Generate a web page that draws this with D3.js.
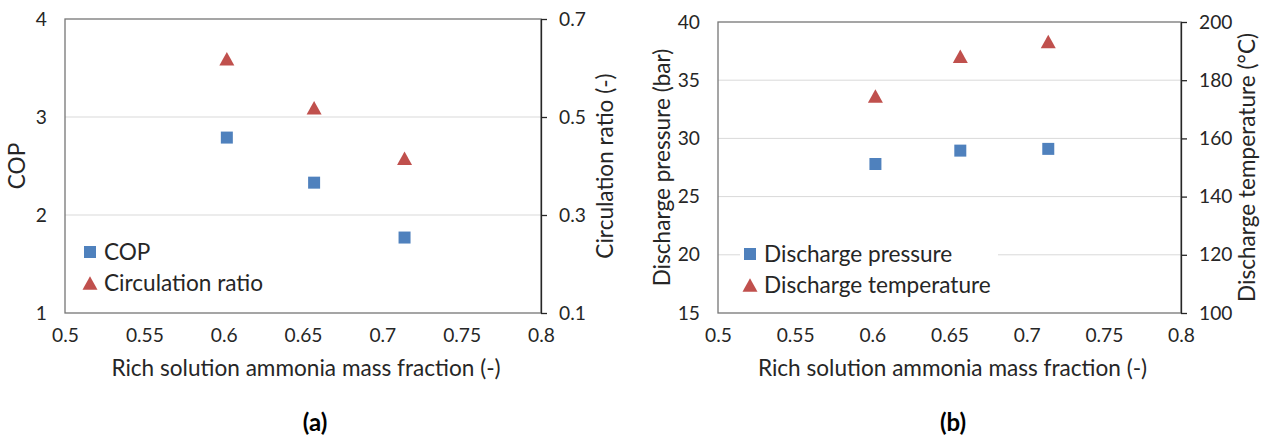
<!DOCTYPE html>
<html>
<head>
<meta charset="utf-8">
<script src="https://cdn.jsdelivr.net/npm/d3@7"></script>
<style>
  body { margin: 0; background: #fff; }
  svg { display: block; font-family: Lato, "Open Sans", sans-serif; }
</style>
</head>
<body>
<svg width="1267" height="438"></svg>
<script>
// data
const massFraction = [0.602, 0.657, 0.714];
const xTicks = [0.5, 0.55, 0.6, 0.65, 0.7, 0.75, 0.8];

const copValues = [2.79, 2.33, 1.77];
const ratioValues = [0.619, 0.519, 0.416];
const copTicks = [1, 2, 3, 4];
const ratioTicks = [0.1, 0.3, 0.5, 0.7];

const pressureValues = [27.8, 28.95, 29.1];
const temperatureValues = [174.6, 188.2, 193.3];
const pressureTicks = [15, 20, 25, 30, 35, 40];
const temperatureTicks = [100, 120, 140, 160, 180, 200];

const blue = "#4f81bd";
const red = "#c0504d";
const textColor = "#262626";
const labelSize = "22.6px";
const tickSize = "19.2px";

const svg = d3.select("svg");

// triangle centred on its bounding box, like the spreadsheet markers
const boxTriangle = {
  draw(ctx, size) {
    const w = Math.sqrt(size);
    const h = w * 0.9;
    ctx.moveTo(0, -h / 2);
    ctx.lineTo(w / 2, h / 2);
    ctx.lineTo(-w / 2, h / 2);
    ctx.closePath();
  }
};

const panels = [
  {
    left: 65, right: 541, top: 19, bottom: 313,
    yDomain: [1, 4], yTicks: copTicks, yFormat: d3.format("d"),
    y2Domain: [0.1, 0.7], y2Ticks: ratioTicks, y2Format: d3.format(".1f"),
    yTitle: "COP", y2Title: "Circulation ratio (-)",
    yTitleX: 17, y2TitleX: 605,
    s1: copValues, s2: ratioValues,
    names: ["COP", "Circulation ratio"],
    legend: { x: 90, y: 252, w: 0 },
    tag: "(a)", tagX: 315
  },
  {
    left: 718, right: 1181, top: 22, bottom: 313,
    yDomain: [15, 40], yTicks: pressureTicks, yFormat: d3.format("d"),
    y2Domain: [100, 200], y2Ticks: temperatureTicks, y2Format: d3.format("d"),
    yTitle: "Discharge pressure (bar)", y2Title: "Discharge temperature (°C)",
    yTitleX: 662, y2TitleX: 1247,
    s1: pressureValues, s2: temperatureValues,
    names: ["Discharge pressure", "Discharge temperature"],
    legend: { x: 750, y: 254, w: 258 },
    tag: "(b)", tagX: 953
  }
];

panels.forEach(p => {
  const g = svg.append("g");
  const x = d3.scaleLinear().domain([0.5, 0.8]).range([p.left, p.right]);
  const y = d3.scaleLinear().domain(p.yDomain).range([p.bottom, p.top]);
  const y2 = d3.scaleLinear().domain(p.y2Domain).range([p.bottom, p.top]);

  // gridlines
  g.append("g")
    .selectAll("line")
    .data(p.yTicks.filter(t => t !== p.yDomain[0] && t !== p.yDomain[1]))
    .join("line")
    .attr("x1", p.left).attr("x2", p.right)
    .attr("y1", d => y(d)).attr("y2", d => y(d))
    .attr("stroke", "#d9d9d9").attr("stroke-width", 1);

  // plot border
  g.append("rect")
    .attr("x", p.left).attr("y", p.top)
    .attr("width", p.right - p.left).attr("height", p.bottom - p.top)
    .attr("fill", "none").attr("stroke", "#767676").attr("stroke-width", 1.3);

  // left axis
  const yAxis = d3.axisLeft(y).tickValues(p.yTicks).tickFormat(p.yFormat)
    .tickSize(0).tickPadding(18);
  const yG = g.append("g").attr("transform", `translate(${p.left},0)`).call(yAxis);
  yG.select(".domain").remove();

  // right axis
  const y2Axis = d3.axisRight(y2).tickValues(p.y2Ticks).tickFormat(p.y2Format)
    .tickSizeInner(6).tickSizeOuter(0).tickPadding(12);
  const y2G = g.append("g").attr("transform", `translate(${p.right},0)`).call(y2Axis);
  y2G.select(".domain").attr("stroke", "#262626").attr("stroke-width", 1.3);
  y2G.selectAll(".tick line").attr("stroke", "#262626").attr("stroke-width", 1.3);

  // bottom axis
  const xAxis = d3.axisBottom(x).tickValues(xTicks).tickFormat(d => String(d))
    .tickSize(0).tickPadding(15);
  const xG = g.append("g").attr("transform", `translate(0,${p.bottom})`).call(xAxis);
  xG.select(".domain").remove();

  g.selectAll(".tick text")
    .attr("fill", textColor)
    .style("font-size", tickSize)
    .style("font-family", "Lato, sans-serif");

  // titles
  const mid = (p.left + p.right) / 2;
  g.append("text")
    .attr("x", mid + 3).attr("y", 376)
    .attr("text-anchor", "middle").attr("fill", textColor)
    .style("font-size", labelSize)
    .text("Rich solution ammonia mass fraction (-)");

  g.append("text")
    .attr("transform", `translate(${p.yTitleX},${(p.top + p.bottom) / 2}) rotate(-90)`)
    .attr("text-anchor", "middle").attr("dy", "0.35em").attr("fill", textColor)
    .style("font-size", labelSize)
    .text(p.yTitle);

  g.append("text")
    .attr("transform", `translate(${p.y2TitleX},${(p.top + p.bottom) / 2}) rotate(-90)`)
    .attr("text-anchor", "middle").attr("dy", "0.35em").attr("fill", textColor)
    .style("font-size", labelSize)
    .text(p.y2Title);

  g.append("text")
    .attr("x", p.tagX).attr("y", 431)
    .attr("text-anchor", "middle").attr("fill", "#000")
    .style("font-size", "24px").style("font-weight", "bold")
    .text(p.tag);

  // markers
  const square = d3.symbol().type(d3.symbolSquare).size(144);
  const tri = d3.symbol().type(boxTriangle).size(225);

  g.append("g").selectAll("path")
    .data(massFraction.map((f, i) => [f, p.s1[i]]))
    .join("path")
    .attr("d", square)
    .attr("transform", d => `translate(${x(d[0])},${y(d[1])})`)
    .attr("fill", blue);

  g.append("g").selectAll("path")
    .data(massFraction.map((f, i) => [f, p.s2[i]]))
    .join("path")
    .attr("d", tri)
    .attr("transform", d => `translate(${x(d[0])},${y2(d[1])})`)
    .attr("fill", red);

  // legend
  const lg = g.append("g").attr("transform", `translate(${p.legend.x},${p.legend.y})`);
  if (p.legend.w) {
    lg.append("rect")
      .attr("x", -10).attr("y", -14)
      .attr("width", p.legend.w).attr("height", 62)
      .attr("fill", "#fff");
  }
  lg.append("path").attr("d", square).attr("fill", blue);
  lg.append("path").attr("d", tri).attr("transform", "translate(0,31)").attr("fill", red);
  lg.selectAll("text.lab")
    .data(p.names)
    .join("text")
    .attr("class", "lab")
    .attr("x", 14).attr("y", (d, i) => i * 31)
    .attr("dy", "0.35em").attr("fill", textColor)
    .style("font-size", labelSize)
    .text(d => d);
});
</script>
</body>
</html>
